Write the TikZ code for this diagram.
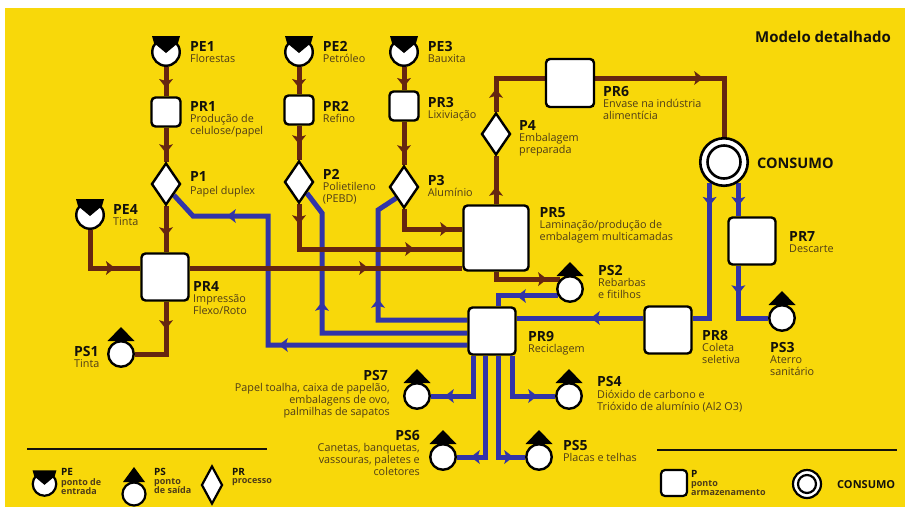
\documentclass[tikz,border=0pt]{standalone}
\usepackage{fontspec}
\setmainfont{Open Sans}
\usetikzlibrary{shapes.geometric,decorations.markings}
\definecolor{ylw}{RGB}{248,216,10}
\definecolor{brn}{RGB}{102,38,16}
\definecolor{blu}{RGB}{50,52,168}
\definecolor{bdyc}{RGB}{78,60,24}
\definecolor{ttlc}{RGB}{20,18,12}
\pgfdeclarelayer{bg}
\pgfdeclarelayer{lines}
\pgfsetlayers{bg,lines,main}
\newcommand\ttlf{\fontsize{14}{14}\selectfont\bfseries}
\newcommand\bdyf{\fontsize{10.8}{12}\selectfont}
\begin{document}
\begin{tikzpicture}[x=1pt,y=-1pt,
  box/.style={draw=black, line width=2.4pt, fill=white, rounded corners=4pt, minimum size=#1, inner sep=0pt},
  dia/.style={diamond, draw=black, line width=2.4pt, fill=white, minimum width=29pt, minimum height=42pt, inner sep=0pt},
  pe/.style={circle, draw=black, line width=2.4pt, fill=white, minimum size=27.5pt, inner sep=0pt},
  ps/.style={circle, draw=black, line width=2.4pt, fill=white, minimum size=25.5pt, inner sep=0pt},
  bl/.style={draw=brn, line width=5pt},
  bu/.style={draw=blu, line width=5pt},
  mkb/.style={postaction={decorate, decoration={markings, mark=at position #1 with {\fill[brn] (5pt,0pt) -- (-4pt,7pt) -- (-2pt,0pt) -- (-4pt,-7pt) -- cycle;}}}},
  mku/.style={postaction={decorate, decoration={markings, mark=at position #1 with {\fill[blu] (5pt,0pt) -- (-4pt,7pt) -- (-2pt,0pt) -- (-4pt,-7pt) -- cycle;}}}},
  ttl/.style={font=\ttlf, text=ttlc, inner sep=0pt, anchor=base west},
  bdy/.style={font=\bdyf, text=bdyc, inner sep=0pt, anchor=north west, align=left},
  ttlr/.style={ttl, anchor=base east},
  bdyr/.style={bdy, anchor=north east, align=right},
  lt/.style={font=\fontsize{10}{10}\selectfont\bfseries, text=ttlc, inner sep=0pt, anchor=base west},
  lb/.style={font=\fontsize{9}{9.5}\selectfont\bfseries, text=bdyc, inner sep=0pt, anchor=north west, align=left},
  pics/pecap/.style={code={\fill[black] (0,1) -- (-12,-9) -- (-14,-16) -- (14,-16) -- (12,-9) -- cycle;}},
  pics/pstri/.style={code={\fill[black] (-13.5,-13) -- (0,-27) -- (13.5,-13) -- cycle;}}
]
\begin{pgfonlayer}{bg}
\fill[white] (0,0) rectangle (908,507);
\fill[ylw] (5,8) rectangle (905,507);
\end{pgfonlayer}
\useasboundingbox (0,0) rectangle (908,507);

% ---------- nodes ----------
\node[pe] (PE1) at (166,52) {};
\node[box=29pt] (PR1) at (166,112) {};
\node[dia] (P1) at (166,184) {};
\node[pe] (PE2) at (299,52) {};
\node[box=29pt] (PR2) at (299,110) {};
\node[dia] (P2) at (299,182) {};
\node[pe] (PE3) at (404,52) {};
\node[box=29pt] (PR3) at (404,106) {};
\node[dia] (P3) at (404,187) {};
\node[dia] (P4) at (496,134) {};
\node[box=48pt] (PR6) at (570,83) {};
\node[circle, draw=black, line width=2.6pt, fill=white, minimum size=47.5pt, inner sep=0pt] (CONS) at (724,162) {};
\draw[line width=2.6pt] (CONS.center) circle[radius=16.5pt];
\node[pe] (PE4) at (90,215) {};
\node[box=47pt] (PR4) at (165,277) {};
\node[ps] (PS1) at (121,354) {};
\node[box=65pt] (PR5) at (496,238) {};
\node[ps] (PS2) at (570,289) {};
\node[box=47pt] (PR7) at (752,241) {};
\node[box=47pt] (PR8) at (668,330) {};
\node[ps] (PS3) at (782,318) {};
\node[box=47pt] (PR9) at (492,331) {};
\node[ps] (PS7) at (417,396) {};
\node[ps] (PS6) at (443,457) {};
\node[ps] (PS5) at (539,457) {};
\node[ps] (PS4) at (569,396) {};

\foreach \n in {PE1,PE2,PE3,PE4} {\pic at (\n) {pecap};}
\foreach \n in {PS1,PS2,PS3,PS4,PS5,PS6,PS7} {\pic at (\n) {pstri};}

% ---------- connectors ----------
\begin{pgfonlayer}{lines}
% blue
\draw[bu, mku=18.3pt] (CONS.235) |- ([yshift=12pt]PR8.east);
\draw[bu, mku=18.3pt] (CONS.305) -- (CONS.305 |- PR7.north);
\draw[bu, mku=23.5pt] (CONS.305 |- PR7.south) |- (PS3.west);
\draw[bu, mku=47.5pt] ([yshift=12pt]PR8.west) -- ([yshift=12pt]PR8.west -| PR9.east);
\draw[bu, mku=36pt] (PS2.210) -| ([xshift=6pt]PR9.north);
\draw[bu, mku=105.5pt] ([yshift=11pt]PR9.west) -| (378,210) -- (P3.south west);
\draw[bu, mku=171.5pt] ([yshift=-2pt]PR9.west) -| (322,213) -- (P2.south east);
\draw[bu, mku=183.5pt, mku=364.5pt] ([yshift=-14pt]PR9.west) -| (268,216) -- (193,216) -- (P1.south east);
\draw[bu, mku=63.5pt] ([xshift=-19pt]PR9.south) |- (PS7.east);
\draw[bu, mku=110.5pt] ([xshift=-7pt]PR9.south) |- (PS6.east);
\draw[bu, mku=111.5pt] ([xshift=6pt]PR9.south) |- (PS5.west);
\draw[bu, mku=60.5pt] ([xshift=20pt]PR9.south) |- (PS4.west);
% brown
\draw[bl, mkb=16pt] (PE1.south) -- (PR1.north);
\draw[bl, mkb=20.5pt] (PR1.south) -- (P1.north);
\draw[bl, mkb=25pt] (P1.south) -- (P1.south |- PR4.north);
\draw[bl, mkb=16pt] (PE2.south) -- (PR2.north);
\draw[bl, mkb=13.5pt] (PR2.south) -- (P2.north);
\draw[bl, mkb=15pt] (PE3.south) -- (PR3.north);
\draw[bl, mkb=27.5pt] (PR3.south) -- (P3.north);
\draw[bl, mkb=58pt] (PE4.south) |- ([yshift=9pt]PR4.west);
\draw[bl, mkb=173.5pt] ([yshift=9pt]PR4.east) -- ([yshift=9pt]PR4.east -| PR5.west);
\draw[bl, mkb=22.5pt] (P1.south |- PR4.south) |- (PS1.east);
\draw[bl, mkb=15pt, mkb=155pt] (P2.south) |- ([yshift=-11pt]PR5.west);
\draw[bl, mkb=60pt] (P3.south) |- ([yshift=9pt]PR5.west);
\draw[bl, mkb=12.5pt] (PR5.north) -- (P4.south);
\draw[bl, mkb=18pt] (P4.north) |- ([yshift=5pt]PR6.west);
\draw[bl, mkb=103pt] ([yshift=5pt]PR6.east) -| (CONS.north);
\draw[bl, mkb=53.5pt] (PR5.south) |- (PS2.135);
\end{pgfonlayer}

% ---------- labels ----------
\node[font=\fontsize{15}{15}\selectfont\bfseries, text=ttlc, inner sep=0pt, anchor=base west] (title) at (755,42.7) {Modelo detalhado};
\node[ttl] (tPE1) at (190,51) {PE1};
\node[bdy] (bPE1) at (190,54) {Florestas};
\node[ttl] (tPE2) at (322.7,51) {PE2};
\node[bdy] (bPE2) at (322.7,54) {Petróleo};
\node[ttl] (tPE3) at (427.7,51) {PE3};
\node[bdy] (bPE3) at (427.7,54) {Bauxita};
\node[ttl] (tPR1) at (190,111.5) {PR1};
\node[bdy] (bPR1) at (190,114.5) {Produção de\\celulose/papel};
\node[ttl] (tPR2) at (322.7,111.5) {PR2};
\node[bdy] (bPR2) at (322.7,114.5) {Refino};
\node[ttl] (tPR3) at (427.7,107) {PR3};
\node[bdy] (bPR3) at (427.7,110) {Lixiviação};
\node[ttl] (tP1) at (190,181.5) {P1};
\node[bdy] (bP1) at (190,186) {Papel duplex};
\node[ttl] (tP2) at (322.7,179) {P2};
\node[bdy] (bP2) at (322.7,182) {Polietileno\\(PEBD)};
\node[ttl] (tP3) at (427.7,185) {P3};
\node[bdy] (bP3) at (427.7,188) {Alumínio};
\node[ttl] (tP4) at (519,130) {P4};
\node[bdy] (bP4) at (519,133) {Embalagem\\preparada};
\node[ttl] (tPR6) at (603,96.5) {PR6};
\node[bdy] (bPR6) at (603,99.5) {Envase na indústria\\alimentícia};
\node[font=\fontsize{14.5}{14.5}\selectfont\bfseries, text=ttlc, inner sep=0pt, anchor=base west] (tCONS) at (757,168) {CONSUMO};
\node[ttl] (tPE4) at (113,214) {PE4};
\node[bdy] (bPE4) at (113,217) {Tinta};
\node[ttl] (tPR4) at (193,291.5) {PR4};
\node[bdy] (bPR4) at (193,294.5) {Impressão\\Flexo/Roto};
\node[ttl] (tPS1) at (74,356.5) {PS1};
\node[bdy] (bPS1) at (74,359.5) {Tinta};
\node[ttl] (tPR5) at (539.5,217) {PR5};
\node[bdy] (bPR5) at (539.5,220) {Laminação/produção de\\embalagem multicamadas};
\node[ttl] (tPS2) at (598,275) {PS2};
\node[bdy] (bPS2) at (598,278) {Rebarbas\\e fitilhos};
\node[ttl] (tPR9) at (528,341.5) {PR9};
\node[bdy] (bPR9) at (528,344.5) {Reciclagem};
\node[ttl] (tPR7) at (789,241.5) {PR7};
\node[bdy] (bPR7) at (789,244.5) {Descarte};
\node[ttl] (tPR8) at (702,340.5) {PR8};
\node[bdy] (bPR8) at (702,343.5) {Coleta\\seletiva};
\node[ttl] (tPS3) at (770,352.5) {PS3};
\node[bdy] (bPS3) at (770,355.5) {Aterro\\sanitário};
\node[ttl] (tPS4) at (597,386.5) {PS4};
\node[bdy] (bPS4) at (597,390) {Dióxido de carbono e\\Trióxido de alumínio (Al2 O3)};
\node[ttl] (tPS5) at (563,450) {PS5};
\node[bdy] (bPS5) at (563,453) {Placas e telhas};
\node[ttlr] (tPS7) at (388,380) {PS7};
\node[bdyr] (bPS7) at (390,383) {Papel toalha, caixa de papelão,\\embalagens de ovo,\\palmilhas de sapatos};
\node[ttlr] (tPS6) at (420,440.5) {PS6};
\node[bdyr] (bPS6) at (420,443.5) {Canetas, banquetas,\\vassouras, paletes e\\coletores};

% ---------- legend ----------
\coordinate (la1) at (27,449);
\coordinate (la2) at (267,449);
\coordinate (lb1) at (657,450);
\coordinate (lb2) at (897,450);
\draw[line width=2pt, draw=ttlc] (la1) -- (la2);
\draw[line width=2pt, draw=ttlc] (lb1) -- (lb2);
\node[circle, draw=black, line width=2.2pt, fill=white, minimum size=23.5pt, inner sep=0pt] (LPE) at (44.5,484) {};
\pic[scale=0.85] at (LPE) {pecap};
\node[lt] (tLPE) at (61,475) {PE};
\node[lb] (bLPE) at (61,478) {ponto de\\entrada};
\node[circle, draw=black, line width=2.2pt, fill=white, minimum size=23pt, inner sep=0pt] (LPS) at (134,494) {};
\fill[black, shift={(LPS.center)}] (-11,-12) -- (0,-27) -- (11,-12) -- cycle;
\node[lt] (tLPS) at (154,475) {PS};
\node[lb] (bLPS) at (154,478) {ponto\\de saída};
\node[diamond, draw=black, line width=2.2pt, fill=white, minimum width=21pt, minimum height=38pt, inner sep=0pt] (LPR) at (212,485) {};
\node[lt] (tLPR) at (232,475) {PR};
\node[lb] (bLPR) at (232,478) {processo};
\node[box=26pt, line width=2.2pt] (LP) at (674,483) {};
\node[lt] (tLP) at (691,477) {P};
\node[lb] (bLP) at (691,480) {ponto\\armazenamento};
\node[circle, draw=black, line width=2.2pt, fill=white, minimum size=28pt, inner sep=0pt] (LC) at (807,484) {};
\draw[line width=2.2pt] (LC.center) circle[radius=9pt];
\node[font=\fontsize{11}{11}\selectfont\bfseries, text=ttlc, inner sep=0pt, anchor=base west] (tLC) at (837,488) {CONSUMO};
\end{tikzpicture}
\end{document}
